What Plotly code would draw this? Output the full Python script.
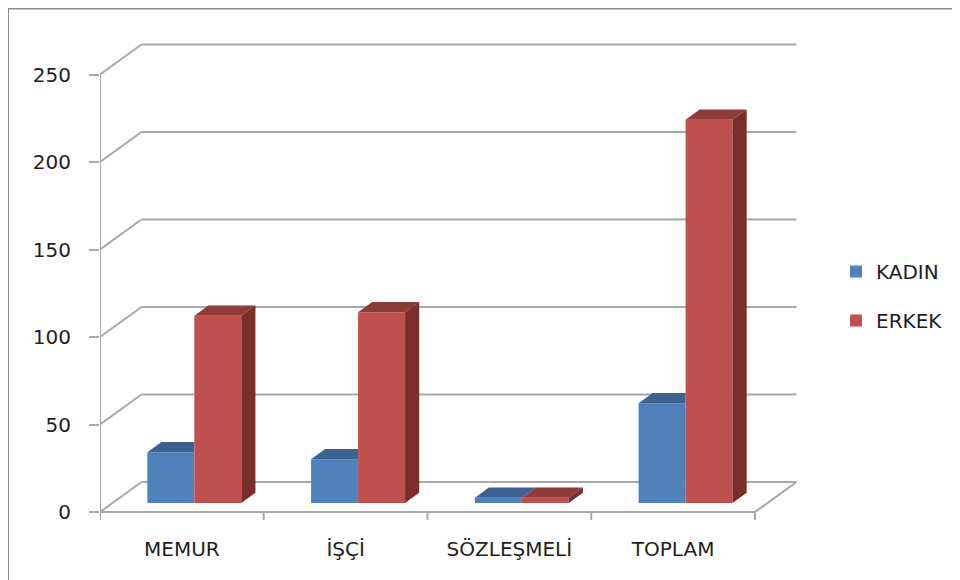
import plotly.graph_objects as go

categories = ["MEMUR", "İŞÇİ", "SÖZLEŞMELİ", "TOPLAM"]
kadin = [29, 25, 3, 57]
erkek = [107, 109, 3, 219]
y_ticks = [0, 50, 100, 150, 200, 250]
series_names = ["KADIN", "ERKEK"]

# colours
BLUE, BLUE_TOP = "#4F81BD", "#3C6291"
RED, RED_TOP, RED_SIDE = "#C0504D", "#8E3B39", "#7A2E2C"
GRID = "#A8A8A8"
TEXT = "#1E1E1E"

# pseudo-3D projection (axis units)
DX = 41.5 / 163.75   # depth shift in x units
DY = 30 / 1.75       # depth shift in y units
D0, D1 = 0.30, 0.64  # bar depth (front, back) as fraction of floor depth
W = 47 / 163.75      # bar width

# page offset of the figure (browser body margin)
OFF = 8
ML, MT, PW, PH = 100 - OFF, 40 - OFF, 700, 490
FW, FH = 960 - OFF, 580 - OFF

n = len(categories)
xs = list(range(n))
x_lo, x_hi = -0.5, n - 0.5

fig = go.Figure()

# front faces (bars)
fig.add_trace(go.Bar(
    x=[i + D0 * DX - W / 2 for i in xs], y=kadin, base=D0 * DY, width=W,
    marker=dict(color=BLUE, line=dict(width=0)), name=series_names[0],
    legendgroup="k", hoverinfo="skip"))
fig.add_trace(go.Bar(
    x=[i + D0 * DX + W / 2 for i in xs], y=erkek, base=D0 * DY, width=W,
    marker=dict(color=RED, line=dict(width=0)), name=series_names[1],
    legendgroup="e", hoverinfo="skip"))

def poly(px, py, color):
    fig.add_trace(go.Scatter(x=px + [px[0]], y=py + [py[0]], mode="lines",
                             fill="toself", fillcolor=color,
                             line=dict(width=0, color=color),
                             showlegend=False, hoverinfo="skip"))

for i, kv, ev in zip(xs, kadin, erkek):
    # blue top face (clipped where the taller red bar hides it)
    x0, x1 = i - W, i
    if kv >= ev:
        px = [x0 + D0 * DX, x1 + D0 * DX, x1 + D1 * DX, x0 + D1 * DX]
    else:
        px = [x0 + D0 * DX, x1 + D0 * DX, x1 + D0 * DX, x0 + D1 * DX]
    py = [kv + D0 * DY, kv + D0 * DY, kv + D1 * DY, kv + D1 * DY]
    poly(px, py, BLUE_TOP)
    # red top face
    x0, x1 = i, i + W
    poly([x0 + D0 * DX, x1 + D0 * DX, x1 + D1 * DX, x0 + D1 * DX],
         [ev + D0 * DY, ev + D0 * DY, ev + D1 * DY, ev + D1 * DY], RED_TOP)
    # red side face
    poly([x1 + D0 * DX, x1 + D1 * DX, x1 + D1 * DX, x1 + D0 * DX],
         [D0 * DY, D1 * DY, ev + D1 * DY, ev + D0 * DY], RED_SIDE)

shapes = []
def seg(xa, ya, xb, yb):
    shapes.append(dict(type="line", xref="x", yref="y", x0=xa, y0=ya, x1=xb, y1=yb,
                       line=dict(color=GRID, width=2), layer="below"))

# gridlines on left and back walls
for v in y_ticks:
    seg(x_lo, v, x_lo + DX, v + DY)
    seg(x_lo + DX, v + DY, x_hi + DX, v + DY)
# floor front / right edges
seg(x_lo, 0, x_hi, 0)
seg(x_hi, 0, x_hi + DX, DY)
# vertical value axis
seg(x_lo, 0, x_lo, y_ticks[-1])
# category boundary ticks
for k in range(n + 1):
    seg(x_lo + k, 0, x_lo + k, -8 / 1.75)

# outer frame
shapes.append(dict(type="rect", xref="paper", yref="paper",
                   x0=(0 - ML) / PW, x1=(FW + 20 - ML) / PW,
                   y0=(MT + PH - (FH + 20)) / PH, y1=(MT + PH - 0.5) / PH,
                   line=dict(color="#8C8C8C", width=2), layer="below"))

fig.update_layout(
    width=FW, height=FH, autosize=False,
    margin=dict(l=ML, r=FW - ML - PW, t=MT, b=FH - MT - PH),
    paper_bgcolor="white", plot_bgcolor="white",
    barmode="overlay",
    font=dict(family="DejaVu Sans", size=20, color=TEXT),
    shapes=shapes,
    showlegend=True,
    legend=dict(x=(836 - OFF - ML) / PW, xanchor="left",
                y=(MT + PH - (252 - OFF)) / PH, yanchor="top",
                tracegroupgap=20, traceorder="grouped",
                font=dict(family="DejaVu Sans", size=20, color=TEXT),
                bgcolor="rgba(0,0,0,0)"),
    xaxis=dict(range=[x_lo, x_lo + PW / 163.75], tickvals=xs, ticktext=categories,
               showgrid=False, zeroline=False, showline=False, ticks="",
               ticklabelstandoff=5, tickfont=dict(size=20), fixedrange=True),
    yaxis=dict(range=[-(530 - 512) / 1.75, (512 - 40) / 1.75], tickvals=y_ticks,
               showgrid=False, zeroline=False, showline=False,
               ticks="outside", ticklen=10, tickwidth=2, tickcolor=GRID,
               ticklabelstandoff=14, tickfont=dict(size=20), fixedrange=True),
)

fig.write_html("out.html", config={"displayModeBar": False})
